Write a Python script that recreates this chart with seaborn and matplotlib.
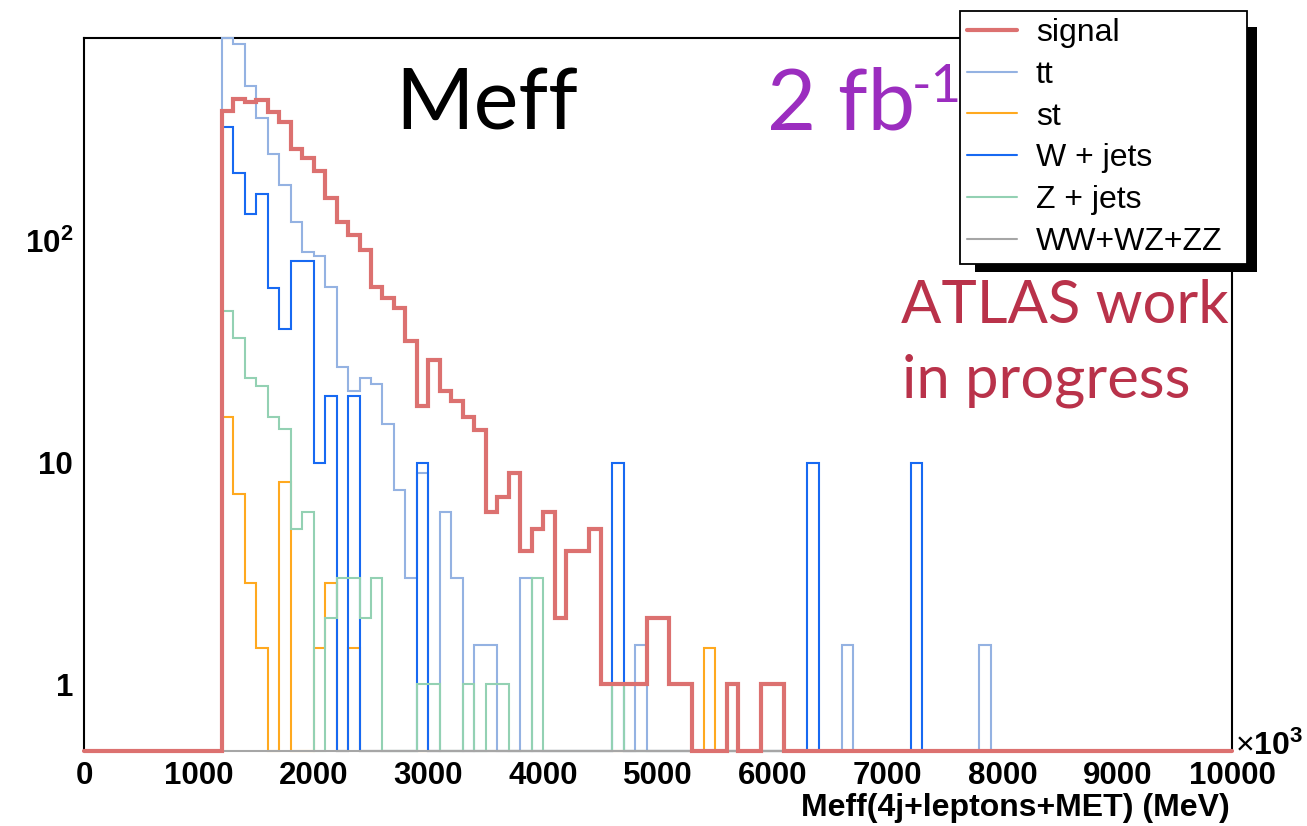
import numpy as np
import matplotlib
matplotlib.use("Agg")
import matplotlib.pyplot as plt
from matplotlib.lines import Line2D
from matplotlib.patches import Rectangle
from matplotlib.ticker import MultipleLocator, LogLocator, FuncFormatter, NullFormatter
import seaborn as sns

# ---- binning -------------------------------------------------------------
BIN_WIDTH = 100
X_MIN, X_MAX = 0, 10000
FIRST_BIN = 1200          # lower edge of the first filled bin
Y_MIN, Y_MAX = 0.5, 822

# ---- histogram contents (events per 100 GeV bin, starting at FIRST_BIN) ---
signal = [387, 437, 423, 430, 381, 344, 260, 237, 207, 156,
          121, 106, 91, 62, 55, 50, 35.5, 18, 29, 21,
          19, 16, 14, 6, 7, 9, 4, 5, 6, 2,
          4, 4, 5, 1, 1, 1, 1, 2, 2, 1,
          1, 0, 0, 0, 1, 0, 0, 1, 1]

ttbar = [1100, 770, 499, 358, 247, 179, 122, 89.5, 85, 62,
         27, 21, 24, 22.5, 15, 7.5, 3, 9, 0, 6,
         3, 0, 1.5, 1.5, 0, 0, 3]
ttbar_tail_bins = [4800, 6600, 7800]
ttbar_tail = [1.5, 1.5, 1.5]

single_top = [16, 7.2, 2.85, 1.45, 0, 8.2, 0, 0, 1.45, 2.85,
              0, 1.45]
single_top_tail_bins = [5400]
single_top_tail = [1.45]

wjets = [326, 203, 132, 163, 61, 40, 81, 81, 10, 20,
         0, 20, 0, 0, 0, 0, 0, 10]
wjets_tail_bins = [4600, 6300, 7200]
wjets_tail = [10, 10, 10]

zjets = [48.5, 36.4, 24.1, 22.2, 16.1, 14.1, 5.0, 6.0, 0, 2,
         3, 3, 2, 3, 0, 0, 0, 1, 1, 0,
         0, 1, 0, 1, 1, 0, 0, 3]
zjets_tail_bins = [4600]
zjets_tail = [1]

diboson = []   # no diboson events pass the selection

labels = ["signal", "tt", "st", "W + jets", "Z + jets", "WW+WZ+ZZ"]
colors = ["#dc7170", "#94b2e2", "#ffa91f", "#1769f2", "#93d1b3", "#a6a6a6"]
widths = [3.0, 1.5, 1.5, 1.5, 1.5, 1.5]

edges = np.arange(X_MIN, X_MAX + BIN_WIDTH, BIN_WIDTH)
n_bins = len(edges) - 1


def fill_bins(dense, tail_bins=(), tail_vals=()):
    h = np.zeros(n_bins)
    i0 = (FIRST_BIN - X_MIN) // BIN_WIDTH
    h[i0:i0 + len(dense)] = dense
    for e, v in zip(tail_bins, tail_vals):
        h[(e - X_MIN) // BIN_WIDTH] = v
    return h


hists = [
    fill_bins(signal),
    fill_bins(ttbar, ttbar_tail_bins, ttbar_tail),
    fill_bins(single_top, single_top_tail_bins, single_top_tail),
    fill_bins(wjets, wjets_tail_bins, wjets_tail),
    fill_bins(zjets, zjets_tail_bins, zjets_tail),
    fill_bins(diboson),
]

# ---- style ---------------------------------------------------------------
sns.set_style("white")
plt.rcParams["font.family"] = ["Liberation Sans", "DejaVu Sans"]
plt.rcParams["mathtext.fontset"] = "custom"
plt.rcParams["mathtext.rm"] = "Liberation Sans"
plt.rcParams["mathtext.bf"] = "Liberation Sans:bold"
for key in ["text.color", "axes.labelcolor", "xtick.color", "ytick.color",
            "axes.edgecolor"]:
    plt.rcParams[key] = "black"

W_PX, H_PX = 1307, 826
fig = plt.figure(figsize=(W_PX / 100, H_PX / 100), dpi=100)
ax_l, ax_r, ax_t, ax_b = 84, 1232, 38, 751
ax = fig.add_axes([ax_l / W_PX, 1 - ax_b / H_PX,
                   (ax_r - ax_l) / W_PX, (ax_b - ax_t) / H_PX])
ax.set_yscale("log")

# backgrounds first, signal on top
order = [1, 2, 3, 4, 5, 0]
for k in order:
    y = np.clip(hists[k], Y_MIN, Y_MAX)
    sns.lineplot(x=edges, y=np.append(y, y[-1]), drawstyle="steps-post",
                 color=colors[k], linewidth=widths[k], estimator=None,
                 sort=False, ax=ax, legend=False, zorder=3)
    ax.lines[-1].set_clip_on(False)
    ax.lines[-1].set_solid_joinstyle("miter")

ax.set_xlim(X_MIN, X_MAX)
ax.set_ylim(Y_MIN, Y_MAX)

for side in ["top", "left", "right"]:
    ax.spines[side].set_linewidth(1.5)
    ax.spines[side].set_color("black")
ax.spines["bottom"].set_visible(False)

ax.xaxis.set_major_locator(MultipleLocator(1000))
ax.xaxis.set_minor_locator(MultipleLocator(200))
ax.xaxis.set_major_formatter(FuncFormatter(lambda v, p: f"{int(round(v))}"))
ax.yaxis.set_major_locator(LogLocator(base=10))
ax.yaxis.set_minor_locator(LogLocator(base=10, subs=np.arange(2, 10)))
ax.yaxis.set_minor_formatter(NullFormatter())


def ylab(v, p):
    if v >= 99:
        return r"$\mathbf{10^{%d}}$" % int(round(np.log10(v)))
    return f"{int(round(v))}"


ax.yaxis.set_major_formatter(FuncFormatter(ylab))
ax.tick_params(axis="x", which="major", direction="in", length=14.5, width=1.1,
               pad=7.5, labelsize=22.5, top=False, colors="black")
ax.tick_params(axis="x", which="minor", direction="in", length=7.2, width=1.1,
               top=False, colors="black")
ax.tick_params(axis="y", which="major", direction="in", length=24, width=1.1,
               pad=8, labelsize=22.5, right=False, colors="black")
ax.tick_params(axis="y", which="minor", direction="in", length=12, width=1.1,
               right=False, colors="black")
for t in ax.get_xticklabels() + ax.get_yticklabels():
    t.set_fontweight("bold")
ax.grid(False)

# axis title and multiplier
fig.text(1230 / W_PX, 1 - 816 / H_PX, "Meff(4j+leptons+MET) (MeV)",
         ha="right", va="baseline", fontsize=23, fontweight="bold",
         color="black")
fig.text(1235 / W_PX, 1 - 755 / H_PX, r"$\times\mathbf{10^{3}}$",
         ha="left", va="baseline", fontsize=23, color="black")

# annotations
fig.text(395 / W_PX, 1 - 130 / H_PX, "Meff", family="Lato", fontsize=61,
         color="black", ha="left", va="baseline")
fig.text(767 / W_PX, 1 - 130 / H_PX, "2 fb", family="Lato", fontsize=61,
         color="#9b2dbf", ha="left", va="baseline")
fig.text(912 / W_PX, 1 - 101.7 / H_PX, "-1", family="Lato", fontsize=38,
         color="#9b2dbf", ha="left", va="baseline")
fig.text(901 / W_PX, 1 - 323 / H_PX, "ATLAS work", family="Lato", fontsize=43,
         color="#b9324a", ha="left", va="baseline")
fig.text(902 / W_PX, 1 - 397 / H_PX, "in progress", family="Lato", fontsize=43,
         color="#b9324a", ha="left", va="baseline")

# legend with a solid drop shadow
lg_l, lg_t, lg_r, lg_b = 960, 11, 1247, 260
shadow = Rectangle((975 / W_PX, 1 - 272 / H_PX), (1257 - 975) / W_PX,
                   (272 - 27) / H_PX, transform=fig.transFigure,
                   facecolor="black", edgecolor="none", zorder=9)
fig.add_artist(shadow)
handles = [Line2D([], [], color=c, lw=w) for c, w in zip(colors, widths)]
leg = fig.legend(handles, labels, loc="upper left",
                 bbox_to_anchor=(lg_l / W_PX, 1 - lg_b / H_PX,
                                 (lg_r - lg_l) / W_PX, (lg_b - lg_t) / H_PX),
                 bbox_transform=fig.transFigure, mode="expand",
                 borderaxespad=0, fontsize=23, frameon=True, fancybox=False,
                 shadow=False, handlelength=1.55, handletextpad=0.6,
                 labelspacing=0.37, borderpad=0.22)
leg.get_frame().set_edgecolor("black")
leg.get_frame().set_linewidth(1.3)
leg.get_frame().set_facecolor("white")
leg.get_frame().set_alpha(1)
for t in leg.get_texts():
    t.set_color("black")
leg.set_zorder(10)

fig.savefig("out.png", dpi=100)
